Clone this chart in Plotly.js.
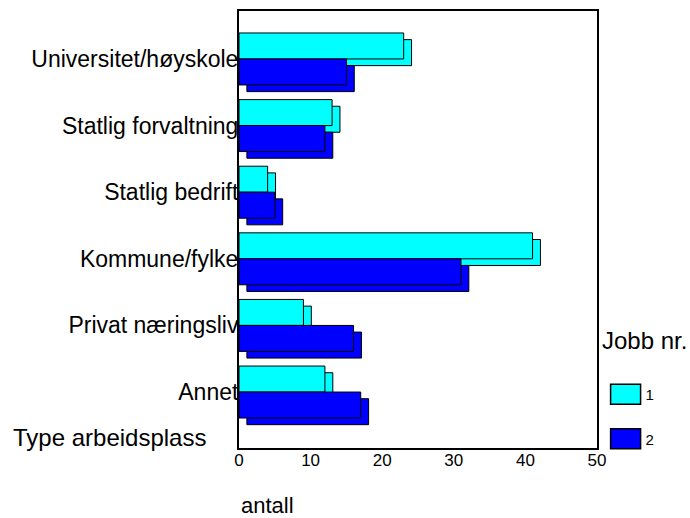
<!DOCTYPE html>
<html>
<head>
<meta charset="utf-8">
<script src="https://cdn.plot.ly/plotly-3.0.1.min.js"></script>
<style>html,body{margin:0;padding:0;background:#fff;}#chart{width:690px;height:518px;}</style>
</head>
<body>
<div id="chart"></div>
<script>
// Data
const categories = ["Universitet/høyskole", "Statlig forvaltning", "Statlig bedrift", "Kommune/fylke", "Privat næringsliv", "Annet"];
const job1 = [23, 13, 4, 41, 9, 12];
const job2 = [15, 12, 5, 31, 16, 17];
const seriesNames = ["1", "2"];
const xTicks = [0, 10, 20, 30, 40, 50];

// Style constants
const CYAN = "#00ffff", BLUE = "#0000ff";
const BW = 0.39;          // bar thickness (category units)
const DX = 1.1;           // 3D depth, value units
const DY = 0.1;           // 3D depth, category units
const FONT = "Liberation Sans, Arial, sans-serif";

function bar(vals, color, offset, base, name, show, group) {
  return {
    type: "bar", orientation: "h",
    y: categories, x: vals, base: base,
    offset: offset, width: BW,
    marker: {color: color, line: {color: "#000", width: 1}},
    name: name, showlegend: show, legendgroup: group,
    hoverinfo: "x+y"
  };
}

const traces = [
  bar(job1, CYAN, -BW + DY, DX, seriesNames[0], false, "g1"),
  bar(job1, CYAN, -BW, 0, seriesNames[0], true, "g1"),
  bar(job2, BLUE, DY, DX, seriesNames[1], false, "g2"),
  bar(job2, BLUE, 0, 0, seriesNames[1], true, "g2")
];

const layout = {
  width: 690, height: 518,
  margin: {l: 239, r: 93, t: 11, b: 70, pad: 0, autoexpand: false},
  paper_bgcolor: "#fff", plot_bgcolor: "#fff",
  barmode: "overlay",
  font: {family: FONT, color: "#000"},
  xaxis: {
    range: [0, 50], tickvals: xTicks, ticktext: xTicks.map(String),
    showgrid: false, zeroline: false,
    showline: true, linecolor: "#000", linewidth: 2, mirror: true,
    ticks: "", tickfont: {size: 17, family: FONT}, ticklabelstandoff: -4,
    fixedrange: true
  },
  yaxis: {
    type: "category", categoryorder: "array", categoryarray: categories,
    range: [5.84, -0.72],
    showgrid: false, zeroline: false,
    showline: true, linecolor: "#000", linewidth: 2, mirror: true,
    ticks: "", tickfont: {size: 23, family: FONT}, ticklabelstandoff: -6,
    layer: "below traces",
    fixedrange: true
  },
  legend: {
    x: 1.024, xanchor: "left", y: 0.16, yanchor: "top",
    font: {size: 15, family: FONT},
    traceorder: "grouped", tracegroupgap: 22,
    bgcolor: "rgba(0,0,0,0)", borderwidth: 0
  },
  annotations: [
    {text: "Type arbeidsplass", xref: "paper", yref: "paper", x: -0.0866, y: 0.025,
     xanchor: "right", yanchor: "middle", showarrow: false, font: {size: 24, family: FONT}},
    {text: "antall", xref: "paper", yref: "paper", x: 0, y: -0.132,
     xanchor: "left", yanchor: "middle", showarrow: false, font: {size: 22, family: FONT}},
    {text: "Jobb nr.", xref: "paper", yref: "paper", x: 1.008, y: 0.245,
     xanchor: "left", yanchor: "middle", showarrow: false, font: {size: 24, family: FONT}}
  ],
  showlegend: true
};

Plotly.newPlot("chart", traces, layout, {displayModeBar: false, staticPlot: true}).then(function () {
  document.querySelectorAll("#chart .legendpoints path").forEach(function (p) {
    p.setAttribute("d", "M15,10H-15V-10H15Z");
    p.style.strokeWidth = "1.5px";
  });
});
</script>
</body>
</html>
